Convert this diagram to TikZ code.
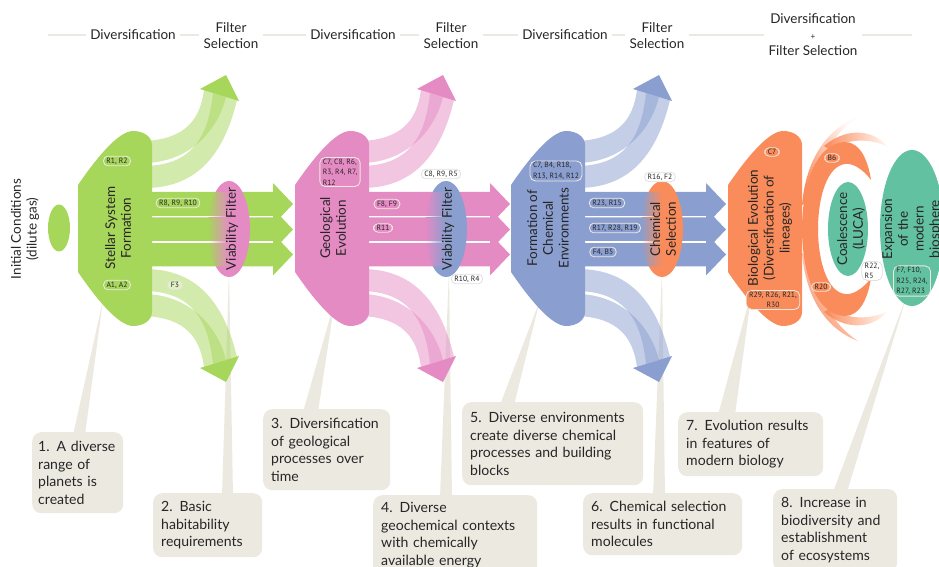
\documentclass[tikz,border=0pt]{standalone}
\usepackage{fontspec}
\setmainfont{Lato}
\newfontfamily\pillfont{PT Sans}
\usetikzlibrary{calc,fadings}
\definecolor{cgreen}{RGB}{166,214,90}
\definecolor{cpink}{RGB}{229,139,196}
\definecolor{cblue}{RGB}{138,158,207}
\definecolor{corange}{RGB}{250,140,92}
\definecolor{cteal}{RGB}{98,193,160}
\definecolor{cbeige}{RGB}{236,233,225}
\definecolor{ctext}{RGB}{38,38,38}
\tikzfading[name=filterfade, left color=transparent!100, right color=transparent!0, middle color=transparent!0]
\tikzfading[name=prongfade, left color=transparent!0, right color=transparent!95]

\begin{document}
\begin{tikzpicture}[x=0.03cm, y=-0.03cm,
    stagetext/.style={rotate=90, align=center, font=\fontsize{11.5}{13.5}\selectfont, text=ctext},
    headtext/.style={align=center, font=\fontsize{11.5}{13.5}\selectfont, text=ctext, inner xsep=3.5pt},
    headline/.style={cbeige, line width=2pt},
    pill/.style={draw=cbeige, line width=0.7pt, rounded corners=0.13cm, inner xsep=2.5pt, inner ysep=1.3pt, font=\pillfont\fontsize{6.5}{8.8}\selectfont, text=ctext},
    pillbox/.style={pill, align=left, rounded corners=0.16cm},
    whitepill/.style={pill, fill=white, draw=black!12},
    callout/.style={fill=cbeige, rounded corners=0.27cm, inner xsep=0.24cm, inner ysep=0.18cm, align=left, anchor=north west, font=\fontsize{12}{15}\selectfont, text=ctext},
    pointer/.style={fill=cbeige},
    band/.style={fill opacity=0.5}
]

\useasboundingbox (0,0) rectangle (939,567);

% header
\coordinate (hl0) at (48,35);
\coordinate (hl9) at (912,35);
\node[headtext] (hd1) at (133,35) {Diversification};
\node[headtext] (hf1) at (231,36) {Filter\\Selection};
\node[headtext] (hd2) at (353,35) {Diversification};
\node[headtext] (hf2) at (451,36) {Filter\\Selection};
\node[headtext] (hd3) at (565,35) {Diversification};
\node[headtext] (hf3) at (657,36) {Filter\\Selection};
\node[headtext, font=\fontsize{11.5}{13.6}\selectfont] (hdf) at (813,35) {Diversification\\{\scriptsize +}\\Filter Selection};
\draw[headline] (hl0) -- (hd1.west);
\draw[headline] (hd1.east) -- (hd1.east -| hf1.west);
\draw[headline] (hf1.east |- hd1.east) -- (hd2.west);
\draw[headline] (hd2.east) -- (hd2.east -| hf2.west);
\draw[headline] (hf2.east |- hd2.east) -- (hd3.west);
\draw[headline] (hd3.east) -- (hd3.east -| hf3.west);
\draw[headline] (hf3.east |- hd3.east) -- (hd3.east -| hdf.west);
\draw[headline] (hdf.east |- hl9) -- (hl9);

% callouts
\node[callout, inner xsep=0.18cm, text width=2.37cm, minimum width=2.73cm, minimum height=2.43cm] (c1) at (32,432) {1. A diverse\\range of\\planets is\\created};
\node[callout, text width=2.79cm, minimum width=3.27cm, minimum height=1.92cm] (c2) at (153,493) {2. Basic\\habitability\\requirements};
\node[callout, text width=3.33cm, minimum width=3.81cm, minimum height=2.43cm] (c3) at (263,409) {3. Diversification\\of geological\\processes over\\time};
\node[callout, text width=4.44cm, minimum width=4.92cm, minimum height=2.4cm] (c4) at (373,495) {4. Diverse\\geochemical contexts\\with chemically\\available energy};
\node[callout, text width=4.95cm, minimum width=5.43cm, minimum height=2.49cm] (c5) at (462,402) {5. Diverse environments\\create diverse chemical\\processes and building\\blocks};
\node[callout, text width=4.29cm, minimum width=4.77cm, minimum height=1.86cm] (c6) at (583,493) {6. Chemical selection\\results in functional\\molecules};
\node[callout, text width=3.87cm, minimum width=4.35cm, minimum height=1.92cm] (c7) at (678,412) {7. Evolution results\\in features of\\modern biology};
\node[callout, text width=3.24cm, minimum width=3.72cm, minimum height=2.46cm] (c8) at (773,489) {8. Increase in\\biodiversity and\\establishment\\of ecosystems};

% pointer tips
\coordinate (p1) at (103,300);
\coordinate (p2) at (229,270);
\coordinate (p3) at (335,300);
\coordinate (p4) at (449,270);
\coordinate (p5) at (540,300);
\coordinate (p6) at (662,270);
\coordinate (p7) at (752,290);
\coordinate (p8) at (907,295);
\fill[pointer] ($(c1.north west)+(41,3)$) -- (p1) -- ($(c1.north west)+(53,3)$) -- cycle;
\fill[pointer] ($(c2.north west)+(69,3)$) -- (p2) -- ($(c2.north west)+(80,3)$) -- cycle;
\fill[pointer] ($(c3.north west)+(40,3)$) -- (p3) -- ($(c3.north west)+(55,3)$) -- cycle;
\fill[pointer] ($(c4.north west)+(67,3)$) -- (p4) -- ($(c4.north west)+(79,3)$) -- cycle;
\fill[pointer] ($(c5.north west)+(38,3)$) -- (p5) -- ($(c5.north west)+(52,3)$) -- cycle;
\fill[pointer] ($(c6.north west)+(70,3)$) -- (p6) -- ($(c6.north west)+(82,3)$) -- cycle;
\fill[pointer] ($(c7.north west)+(40,3)$) -- (p7) -- ($(c7.north west)+(57,3)$) -- cycle;
\fill[pointer] ($(c8.north west)+(60,3)$) -- (p8) -- ($(c8.north west)+(74,3)$) -- cycle;

% initial conditions
\fill[cgreen] (59,228) ellipse [x radius=11, y radius=23.5];

% the three diversification + filter stages
\foreach \dx/\col/\nxt in {0/cgreen/cpink, 217/cpink/cblue, 433/cblue/corange}{
  \begin{scope}[shift={(\dx,0)}]
    \fill[\nxt] (229,229) ellipse [x radius=21, y radius=48];
    \foreach \y in {204,229.5,254.5}
      \fill[\col] (148,\y-12) -- (273,\y-12) -- (273,\y-21) -- (293,\y) -- (273,\y+21) -- (273,\y+12) -- (148,\y+12) -- cycle;
    \foreach \y in {216.8,242}
      \draw[white, line width=1.1pt] (150,\y) -- (273,\y);
    \fill[\nxt, path fading=filterfade] (229,229) ellipse [x radius=21, y radius=48];
    % fans (upper, then mirrored)
    \foreach \sh/\sc in {0/1, 457/-1}{
      \begin{scope}[shift={(0,\sh)}, yscale=\sc]
        \fill[\col, band] (145,141) .. controls (185,139) and (200,120) .. (204,90) -- (226,97) .. controls (218,130) and (190,162) .. (145,163) -- cycle;
        \fill[\col, band] (145,166) .. controls (190,165) and (208,140) .. (213,93) -- (237,100) .. controls (225,150) and (200,188) .. (145,188) -- cycle;
        \fill[\col] (200,89) -- (226,75) -- (239,101) -- cycle;
      \end{scope}
    }
    \fill[\col] (78,185) .. controls (95,160) and (118,131) .. (133,131) .. controls (144,131) and (152,137) .. (152,145) -- (152,312) .. controls (152,320) and (144,326) .. (133,326) .. controls (118,326) and (95,297) .. (78,272) -- cycle;
  \end{scope}
}

% biological evolution
\begin{scope}[shift={(650,0)}]
  \fill[corange] (78,185) .. controls (95,160) and (118,131) .. (133,131) .. controls (144,131) and (152,137) .. (152,145) -- (152,312) .. controls (152,320) and (144,326) .. (133,326) .. controls (118,326) and (95,297) .. (78,272) -- cycle;
\end{scope}
\foreach \sh/\sc in {0/1, 458/-1}{
  \begin{scope}[shift={(0,\sh)}, yscale=\sc]
    \fill[corange] (802,230) .. controls (802,180) and (818,143) .. (845,142) .. controls (860,142) and (868,160) .. (871,180) .. controls (862,168) and (852,163) .. (845,164) .. controls (828,166) and (818,195) .. (818,230) -- cycle;
    \fill[corange, path fading=prongfade, fading angle=45] (802,205) .. controls (806,158) and (828,128) .. (858,117) .. controls (835,132) and (818,158) .. (810,200) -- cycle;
    \fill[corange, path fading=prongfade] (824,146) .. controls (845,128) and (872,128) .. (888,147) .. controls (870,138) and (848,138) .. (830,150) -- cycle;
  \end{scope}
}
\fill[cteal] (848,229) ellipse [x radius=20, y radius=47];
\fill[cteal] (912,228) ellipse [x radius=32, y radius=78];

% stage texts
\node[stagetext] (init) at (25,229) {Initial Conditions\\(dilute gas)};
\node[stagetext] (stellar) at (118,228) {Stellar System\\Formation};
\node[stagetext] (geo) at (333,228) {Geological\\Evolution};
\node[stagetext] (chemenv) at (548,228) {Formation of\\Chemical\\Environments};
\node[stagetext] (bio) at (770,228) {Biological Evolution\\(Diversification of\\lineages)};
\node[stagetext] (vf1) at (232,229) {Viability Filter};
\node[stagetext] (vf2) at (448,229) {Viability Filter};
\node[stagetext] (chemsel) at (663,229) {Chemical\\Selection};
\node[stagetext] (luca) at (851,229) {Coalescence\\(LUCA)};
\node[stagetext] (expand) at (912,229) {Expansion\\of the\\modern\\biosphere};

% reference labels
\node[pill, fill=cgreen] (rr1) at (117,161) {R1, R2};
\node[pill, fill=cgreen] (ra1) at (117,285) {A1, A2};
\node[pill, fill=cgreen] (rr8) at (178,203) {R8, R9, R10};
\node[pill, fill=cgreen!35] (rf3) at (175,285) {F3};
\node[pillbox, fill=cpink] (rc7) at (340,172) {C7, C8, R6,\\R3, R4, R7,\\R12};
\node[pill, fill=cpink] (rf8) at (387,204) {F8, F9};
\node[pill, fill=cpink] (rr11) at (383,228) {R11};
\node[whitepill] (rc8) at (441,174) {C8, R9, R5};
\node[whitepill] (rr10) at (467,279) {R10, R4};
\node[pillbox, fill=cblue] (rb4) at (556,171) {C7, B4, R18,\\R13, R14, R12};
\node[pill, fill=cblue] (rr23) at (607,203) {R23, R15};
\node[pill, fill=cblue] (rr17) at (615,228) {R17, R28, R19};
\node[pill, fill=cblue] (rf4) at (603,252) {F4, B5};
\node[whitepill] (rr16) at (660,177) {R16, F2};
\node[pill, fill=corange] (rc7b) at (772,152) {C7};
\node[pill, fill=corange] (rb6) at (832,158) {B6};
\node[pill, fill=corange] (rr20) at (821,287) {R20};
\node[whitepill, pillbox, fill=white, draw=black!12] (rr22) at (872,271) {R22,\\R5};
\node[pillbox, fill=cteal] (rf7) at (912,281) {F7, F10,\\R25, R24,\\R27, R23};
\node[pillbox, fill=corange, align=center] (rr29) at (773,300) {R29, R26, R21,\\R30};

\end{tikzpicture}
\end{document}
